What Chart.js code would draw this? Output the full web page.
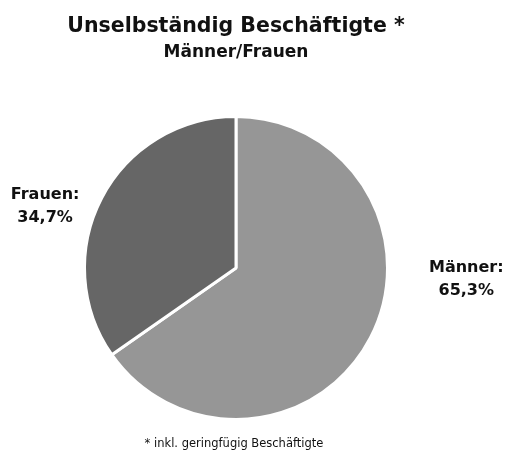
<!DOCTYPE html>
<html lang="de">
<head>
<meta charset="utf-8">
<title>Unselbständig Beschäftigte</title>
<script src="https://cdn.jsdelivr.net/npm/chart.js"></script>
<style>
  html, body { margin: 0; padding: 0; background: #fff; }
  #wrap { width: 508px; height: 457px; }
</style>
</head>
<body>
<div id="wrap"><canvas id="pieChart" width="508" height="457"></canvas></div>
<script>
// data
const categories = ['Männer', 'Frauen'];
const shares = [65.3, 34.7];
const sliceColors = ['#969696', '#666666'];
const titleText = 'Unselbständig Beschäftigte *';
const subtitleText = 'Männer/Frauen';
const footnoteText = '* inkl. geringfügig Beschäftigte';

const FONT = '"DejaVu Sans", sans-serif';

// label anchors relative to pie centre, in units of the radius
const labelPos = [
    { dx: 1.52, dy: 0.05 },
    { dx: -1.26, dy: -0.43 }
];

const textPlugin = {
    id: 'texts',
    afterDraw(chart) {
        const c = chart.ctx;
        const meta = chart.getDatasetMeta(0);
        c.save();
        c.fillStyle = '#111';
        c.textAlign = 'center';
        c.textBaseline = 'alphabetic';

        c.font = 'bold 20.5px ' + FONT;
        c.fillText(titleText, 236, 32);
        c.font = 'bold 17px ' + FONT;
        c.fillText(subtitleText, 236, 57);

        c.font = 'bold 16px ' + FONT;
        meta.data.forEach((arc, i) => {
            const r = arc.outerRadius;
            const x = arc.x + labelPos[i].dx * r;
            const y = arc.y + labelPos[i].dy * r;
            const pct = shares[i].toFixed(1).replace('.', ',') + '%';
            c.fillText(categories[i] + ':', x, y - 4);
            c.fillText(pct, x, y + 19);
        });

        c.font = '11.5px ' + FONT;
        c.fillText(footnoteText, 234, 447);
        c.restore();
    }
};

new Chart(document.getElementById('pieChart'), {
    type: 'pie',
    data: {
        labels: categories,
        datasets: [{
            data: shares,
            backgroundColor: sliceColors,
            borderColor: '#ffffff',
            borderWidth: 3
        }]
    },
    options: {
        responsive: false,
        animation: false,
        layout: { padding: { left: 83, right: 119, top: 115, bottom: 36 } },
        plugins: {
            legend: { display: false },
            tooltip: { enabled: false },
            title: { display: false }
        }
    },
    plugins: [textPlugin]
});
</script>
</body>
</html>
